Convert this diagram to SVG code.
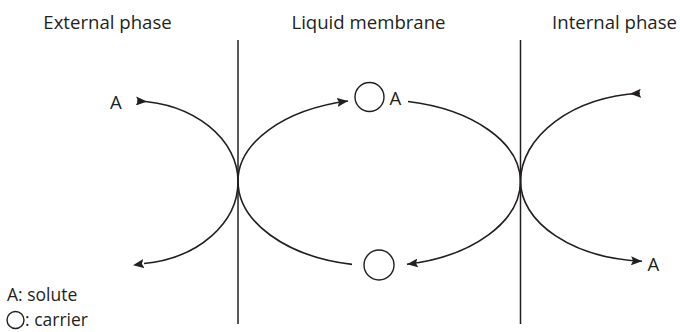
<svg xmlns="http://www.w3.org/2000/svg" width="680" height="332" viewBox="0 0 680 332">
<style>
text{font-family:"Open Sans","Noto Sans","Liberation Sans",sans-serif;fill:#231f20;font-size:18.6px;}
.lg{font-size:17.5px;}
.c{fill:none;stroke:#231f20;stroke-width:1.6;}
.m{fill:none;stroke:#231f20;stroke-width:1.5;}
.o{fill:#fff;stroke:#231f20;stroke-width:1.4;}
</style>
<defs>
<marker id="ae" viewBox="0 0 11 9" refX="11" refY="4.5" markerWidth="11" markerHeight="9" markerUnits="userSpaceOnUse" orient="auto">
<path d="M0,0 L11,4.5 L0,9 L2,4.5 z" fill="#231f20"/>
</marker>
<marker id="as" viewBox="0 0 11 9" refX="1" refY="4.5" markerWidth="11" markerHeight="9" markerUnits="userSpaceOnUse" orient="auto">
<path d="M0,0 L11,4.5 L0,9 L2,4.5 z" fill="#231f20"/>
</marker>
</defs>
<g id="headers">
<text x="107.5" y="28.5" text-anchor="middle">External phase</text>
<text x="368.5" y="28.5" text-anchor="middle">Liquid membrane</text>
<text x="677" y="28.5" text-anchor="end">Internal phase</text>
</g>
<g id="membranes">
<line class="m" x1="238" y1="40" x2="238" y2="324"/>
<line class="m" x1="520.5" y1="40" x2="520.5" y2="324"/>
</g>
<g id="connectors">
<path class="c" d="M137,101 A107,80.5 0 0 1 238,181 A107,82.5 0 0 1 144,263.5" marker-start="url(#as)"/>
<path class="c" d="M145,263.4 L133,265.2" marker-end="url(#ae)" stroke-opacity="0"/>
<path class="c" d="M238,181 A141.25,82 0 0 1 348,101" marker-end="url(#ae)"/>
<path class="c" d="M408,101.5 A141.25,82 0 0 1 520.5,181"/>
<path class="c" d="M520.5,181 A141.25,85 0 0 1 407,264.3" marker-end="url(#ae)"/>
<path class="c" d="M352,264.4 A141.25,85 0 0 1 238,181"/>
<path class="c" d="M640,93.3 A130,89 0 0 0 520.5,181 A130,80.5 0 0 0 642,261.2" marker-start="url(#as)" marker-end="url(#ae)"/>
</g>
<g id="carrier-top">
<circle class="o" cx="369.5" cy="97" r="14.5"/>
<text x="389.5" y="105">A</text>
</g>
<g id="carrier-bottom">
<circle class="o" cx="379" cy="265" r="15"/>
</g>
<g id="solute-ext">
<text x="110" y="108.5">A</text>
</g>
<g id="solute-int">
<text x="647.5" y="271">A</text>
</g>
<g id="legend">
<text class="lg" x="7" y="301">A: solute</text>
<circle class="o" cx="15.5" cy="320" r="8.5"/>
<text class="lg" x="25" y="325.5">: carrier</text>
</g>
</svg>
